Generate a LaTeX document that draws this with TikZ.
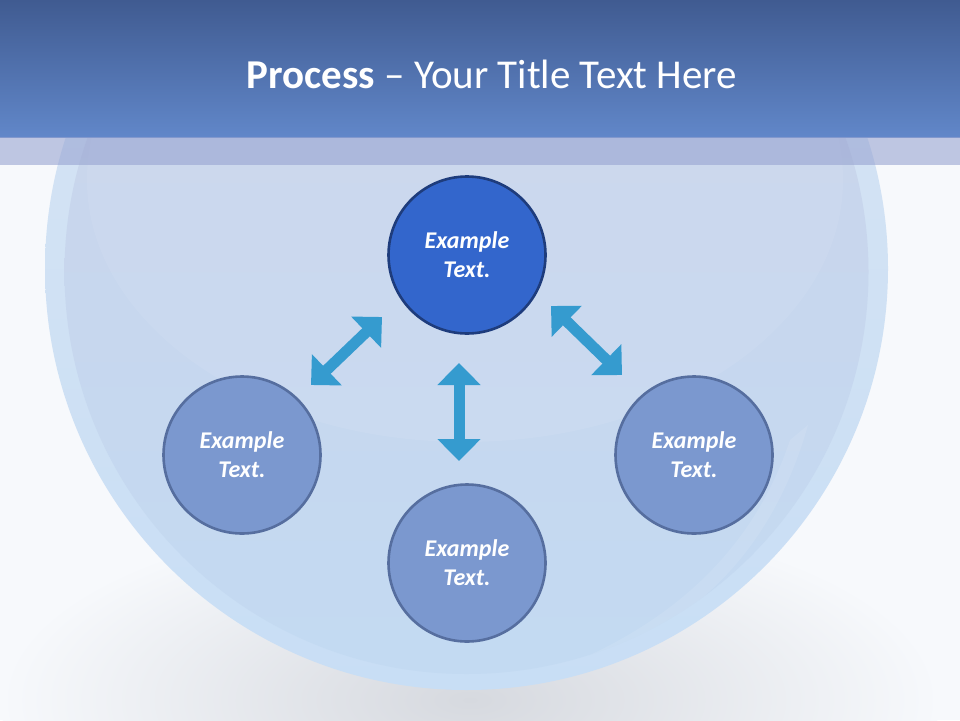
\documentclass[tikz,border=0pt]{standalone}
\usepackage{fontspec}
\setmainfont{Carlito}
\usetikzlibrary{arrows.meta}
\definecolor{bgwhite}{HTML}{F7F9FC}
\definecolor{shadowgray}{HTML}{D6D9DF}
\definecolor{titletop}{HTML}{405B91}
\definecolor{titlebot}{HTML}{6187C9}
\definecolor{bandcol}{HTML}{98A4D1}
\definecolor{ringtop}{HTML}{D9E5F3}
\definecolor{ringbot}{HTML}{C8DEF5}
\definecolor{bowltop}{HTML}{CCD3E9}
\definecolor{bowlbot}{HTML}{C3DAF2}
\definecolor{darkfill}{HTML}{3366CC}
\definecolor{darkedge}{HTML}{1E3C7C}
\definecolor{lightfill}{HTML}{7B98CF}
\definecolor{lightedge}{HTML}{566E9F}
\definecolor{arrowcol}{HTML}{359BCF}
\tikzset{
  bubble/.style={circle, minimum size=157pt, inner sep=0pt, line width=2.6pt,
    text=white, align=center, font=\fontsize{24}{29}\selectfont\bfseries\itshape},
  darkbubble/.style={bubble, draw=darkedge, fill=darkfill},
  lightbubble/.style={bubble, draw=lightedge, fill=lightfill},
  dblarrow/.style={draw=arrowcol, line width=11pt,
    {Triangle[width=42pt,length=22pt]}-{Triangle[width=42pt,length=22pt]}}
}
\begin{document}
\begin{tikzpicture}[x=1pt,y=-1pt]
\useasboundingbox (0,0) rectangle (960,720);
% background
\fill[bgwhite] (0,0) rectangle (960,720);
% soft shadow under the bowl
\begin{scope}
\clip (0,0) rectangle (960,720);
\shade[inner color=shadowgray, outer color=bgwhite] (470,700) ellipse (470pt and 190pt);
\end{scope}
% bowl: outer ring and inner disc
\shade[top color=ringtop, bottom color=ringbot] (466.5,268.5) circle (421.5pt);
\shade[top color=bowltop, bottom color=bowlbot] (466.5,272) circle (402pt);
% gloss highlight
\begin{scope}
\clip (466.5,272) circle (402pt);
\fill[white, opacity=0.07] (465,180) ellipse (378pt and 262pt);
\fill[white, opacity=0.09]
  (808,425) .. controls (770,560) and (680,640) .. (560,668)
  .. controls (660,628) and (750,560) .. (790,440) -- cycle;
\end{scope}
% title bar
\shade[top color=titletop, bottom color=titlebot] (0,0) rectangle (960,137);
\fill[bandcol, opacity=0.6] (0,137) rectangle (960,165);
\node[anchor=base, text=white, font=\fontsize{41}{48}\selectfont, inner sep=0pt] (title) at (492,88)
  {\textbf{Process} – Your Title Text Here};
% nodes
\node[darkbubble]  (top)    at (467,255) {Example\\Text.};
\node[lightbubble] (left)   at (242,455) {Example\\Text.};
\node[lightbubble] (bottom) at (467,563) {Example\\Text.};
\node[lightbubble] (right)  at (694,455) {Example\\Text.};
% arrow end points
\coordinate (la) at (382,317);
\coordinate (lb) at (311,385);
\coordinate (va) at (459,363);
\coordinate (vb) at (459,461);
\coordinate (ra) at (551,306);
\coordinate (rb) at (622,375);
\draw[dblarrow] (la) -- (lb);
\draw[dblarrow] (va) -- (vb);
\draw[dblarrow] (ra) -- (rb);
\end{tikzpicture}
\end{document}
